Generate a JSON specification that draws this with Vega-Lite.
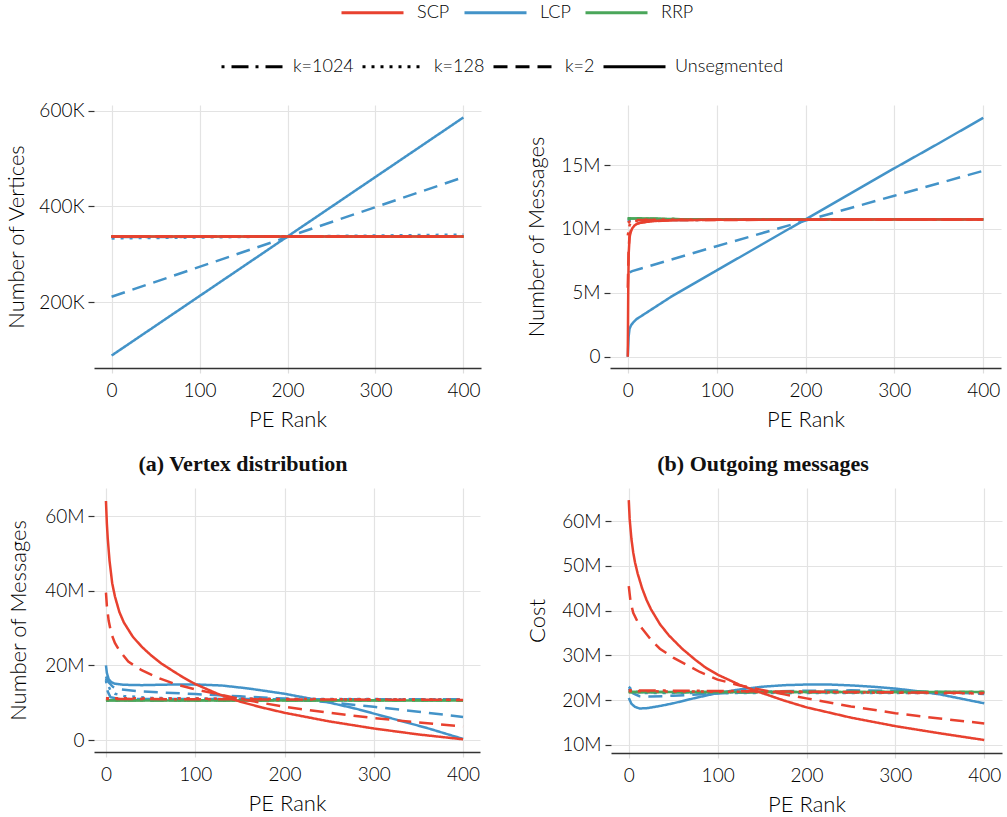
{
  "$schema": "https://vega.github.io/schema/vega-lite/v6.json",
  "padding": {"left": 5, "top": 3, "right": 7, "bottom": 2},
  "background": "white",
  "datasets": {
    "a": [
      {"x":0,"y":88000,"m":"LCP","k":"Unsegmented"},{"x":200,"y":337000,"m":"LCP","k":"Unsegmented"},{"x":400,"y":586000,"m":"LCP","k":"Unsegmented"},
      {"x":0,"y":211000,"m":"LCP","k":"k=2"},{"x":200,"y":336000,"m":"LCP","k":"k=2"},{"x":400,"y":461000,"m":"LCP","k":"k=2"},
      {"x":0,"y":333000,"m":"LCP","k":"k=128"},{"x":400,"y":341000,"m":"LCP","k":"k=128"},
      {"x":0,"y":336000,"m":"LCP","k":"k=1024"},{"x":400,"y":337000,"m":"LCP","k":"k=1024"},
      {"x":0,"y":337000,"m":"RRP","k":"Unsegmented"},{"x":400,"y":337000,"m":"RRP","k":"Unsegmented"},
      {"x":0,"y":337000,"m":"RRP","k":"k=2"},{"x":400,"y":337000,"m":"RRP","k":"k=2"},
      {"x":0,"y":337000,"m":"RRP","k":"k=128"},{"x":400,"y":337000,"m":"RRP","k":"k=128"},
      {"x":0,"y":337000,"m":"RRP","k":"k=1024"},{"x":400,"y":337000,"m":"RRP","k":"k=1024"},
      {"x":0,"y":337000,"m":"SCP","k":"k=1024"},{"x":400,"y":337000,"m":"SCP","k":"k=1024"},
      {"x":0,"y":337000,"m":"SCP","k":"k=128"},{"x":400,"y":337000,"m":"SCP","k":"k=128"},
      {"x":0,"y":337000,"m":"SCP","k":"k=2"},{"x":400,"y":337000,"m":"SCP","k":"k=2"},
      {"x":0,"y":337000,"m":"SCP","k":"Unsegmented"},{"x":400,"y":337000,"m":"SCP","k":"Unsegmented"}
    ],
    "b": [
      {"x":0,"y":0,"m":"LCP","k":"Unsegmented"},{"x":1,"y":1600000,"m":"LCP","k":"Unsegmented"},{"x":2,"y":2200000,"m":"LCP","k":"Unsegmented"},{"x":4,"y":2500000,"m":"LCP","k":"Unsegmented"},{"x":7,"y":2750000,"m":"LCP","k":"Unsegmented"},{"x":10,"y":2950000,"m":"LCP","k":"Unsegmented"},{"x":20,"y":3400000,"m":"LCP","k":"Unsegmented"},{"x":50,"y":4750000,"m":"LCP","k":"Unsegmented"},{"x":100,"y":6750000,"m":"LCP","k":"Unsegmented"},{"x":150,"y":8750000,"m":"LCP","k":"Unsegmented"},{"x":200,"y":10750000,"m":"LCP","k":"Unsegmented"},{"x":250,"y":12750000,"m":"LCP","k":"Unsegmented"},{"x":300,"y":14750000,"m":"LCP","k":"Unsegmented"},{"x":350,"y":16700000,"m":"LCP","k":"Unsegmented"},{"x":400,"y":18700000,"m":"LCP","k":"Unsegmented"},
      {"x":2,"y":6600000,"m":"LCP","k":"k=2"},{"x":5,"y":6700000,"m":"LCP","k":"k=2"},{"x":100,"y":8650000,"m":"LCP","k":"k=2"},{"x":200,"y":10650000,"m":"LCP","k":"k=2"},{"x":300,"y":12600000,"m":"LCP","k":"k=2"},{"x":400,"y":14550000,"m":"LCP","k":"k=2"},
      {"x":0,"y":10600000,"m":"LCP","k":"k=128"},{"x":10,"y":10720000,"m":"LCP","k":"k=128"},{"x":400,"y":10750000,"m":"LCP","k":"k=128"},
      {"x":0,"y":10700000,"m":"LCP","k":"k=1024"},{"x":400,"y":10750000,"m":"LCP","k":"k=1024"},
      {"x":0,"y":10820000,"m":"RRP","k":"Unsegmented"},{"x":30,"y":10800000,"m":"RRP","k":"Unsegmented"},{"x":60,"y":10760000,"m":"RRP","k":"Unsegmented"},{"x":400,"y":10760000,"m":"RRP","k":"Unsegmented"},
      {"x":0,"y":10820000,"m":"RRP","k":"k=2"},{"x":30,"y":10800000,"m":"RRP","k":"k=2"},{"x":60,"y":10760000,"m":"RRP","k":"k=2"},{"x":400,"y":10760000,"m":"RRP","k":"k=2"},
      {"x":0,"y":10820000,"m":"RRP","k":"k=128"},{"x":30,"y":10800000,"m":"RRP","k":"k=128"},{"x":60,"y":10760000,"m":"RRP","k":"k=128"},{"x":400,"y":10760000,"m":"RRP","k":"k=128"},
      {"x":0,"y":10820000,"m":"RRP","k":"k=1024"},{"x":30,"y":10800000,"m":"RRP","k":"k=1024"},{"x":60,"y":10760000,"m":"RRP","k":"k=1024"},{"x":400,"y":10760000,"m":"RRP","k":"k=1024"},
      {"x":0,"y":10500000,"m":"SCP","k":"k=1024"},{"x":5,"y":10700000,"m":"SCP","k":"k=1024"},{"x":400,"y":10750000,"m":"SCP","k":"k=1024"},
      {"x":0,"y":9500000,"m":"SCP","k":"k=128"},{"x":2,"y":10300000,"m":"SCP","k":"k=128"},{"x":5,"y":10600000,"m":"SCP","k":"k=128"},{"x":20,"y":10720000,"m":"SCP","k":"k=128"},{"x":400,"y":10750000,"m":"SCP","k":"k=128"},
      {"x":0,"y":5400000,"m":"SCP","k":"k=2"},{"x":1,"y":8500000,"m":"SCP","k":"k=2"},{"x":2,"y":9500000,"m":"SCP","k":"k=2"},{"x":4,"y":10000000,"m":"SCP","k":"k=2"},{"x":8,"y":10350000,"m":"SCP","k":"k=2"},{"x":15,"y":10500000,"m":"SCP","k":"k=2"},{"x":30,"y":10620000,"m":"SCP","k":"k=2"},{"x":60,"y":10700000,"m":"SCP","k":"k=2"},{"x":400,"y":10750000,"m":"SCP","k":"k=2"},
      {"x":0,"y":0,"m":"SCP","k":"Unsegmented"},{"x":0.5,"y":5000000,"m":"SCP","k":"Unsegmented"},{"x":1,"y":8000000,"m":"SCP","k":"Unsegmented"},{"x":2,"y":9300000,"m":"SCP","k":"Unsegmented"},{"x":3,"y":9700000,"m":"SCP","k":"Unsegmented"},{"x":5,"y":10050000,"m":"SCP","k":"Unsegmented"},{"x":8,"y":10300000,"m":"SCP","k":"Unsegmented"},{"x":12,"y":10450000,"m":"SCP","k":"Unsegmented"},{"x":20,"y":10550000,"m":"SCP","k":"Unsegmented"},{"x":35,"y":10650000,"m":"SCP","k":"Unsegmented"},{"x":60,"y":10700000,"m":"SCP","k":"Unsegmented"},{"x":100,"y":10720000,"m":"SCP","k":"Unsegmented"},{"x":400,"y":10750000,"m":"SCP","k":"Unsegmented"}
    ],
    "c": [
      {"x":0,"y":20000000,"m":"LCP","k":"Unsegmented"},{"x":1,"y":18000000,"m":"LCP","k":"Unsegmented"},{"x":3,"y":16300000,"m":"LCP","k":"Unsegmented"},{"x":6,"y":15500000,"m":"LCP","k":"Unsegmented"},{"x":10,"y":15100000,"m":"LCP","k":"Unsegmented"},{"x":20,"y":14800000,"m":"LCP","k":"Unsegmented"},{"x":40,"y":14700000,"m":"LCP","k":"Unsegmented"},{"x":70,"y":14850000,"m":"LCP","k":"Unsegmented"},{"x":100,"y":14900000,"m":"LCP","k":"Unsegmented"},{"x":130,"y":14600000,"m":"LCP","k":"Unsegmented"},{"x":160,"y":13800000,"m":"LCP","k":"Unsegmented"},{"x":200,"y":12400000,"m":"LCP","k":"Unsegmented"},{"x":240,"y":10600000,"m":"LCP","k":"Unsegmented"},{"x":280,"y":8400000,"m":"LCP","k":"Unsegmented"},{"x":320,"y":5800000,"m":"LCP","k":"Unsegmented"},{"x":360,"y":3200000,"m":"LCP","k":"Unsegmented"},{"x":400,"y":300000,"m":"LCP","k":"Unsegmented"},
      {"x":0,"y":17000000,"m":"LCP","k":"k=2"},{"x":3,"y":15500000,"m":"LCP","k":"k=2"},{"x":8,"y":14200000,"m":"LCP","k":"k=2"},{"x":15,"y":13600000,"m":"LCP","k":"k=2"},{"x":40,"y":13000000,"m":"LCP","k":"k=2"},{"x":100,"y":12300000,"m":"LCP","k":"k=2"},{"x":150,"y":11700000,"m":"LCP","k":"k=2"},{"x":200,"y":11100000,"m":"LCP","k":"k=2"},{"x":250,"y":10100000,"m":"LCP","k":"k=2"},{"x":300,"y":8900000,"m":"LCP","k":"k=2"},{"x":350,"y":7600000,"m":"LCP","k":"k=2"},{"x":400,"y":6200000,"m":"LCP","k":"k=2"},
      {"x":0,"y":16500000,"m":"LCP","k":"k=128"},{"x":2,"y":15000000,"m":"LCP","k":"k=128"},{"x":5,"y":13300000,"m":"LCP","k":"k=128"},{"x":10,"y":12400000,"m":"LCP","k":"k=128"},{"x":20,"y":11800000,"m":"LCP","k":"k=128"},{"x":50,"y":11300000,"m":"LCP","k":"k=128"},{"x":100,"y":11100000,"m":"LCP","k":"k=128"},{"x":400,"y":10900000,"m":"LCP","k":"k=128"},
      {"x":0,"y":16000000,"m":"LCP","k":"k=1024"},{"x":2,"y":13000000,"m":"LCP","k":"k=1024"},{"x":5,"y":11500000,"m":"LCP","k":"k=1024"},{"x":15,"y":11000000,"m":"LCP","k":"k=1024"},{"x":400,"y":10900000,"m":"LCP","k":"k=1024"},
      {"x":0,"y":10600000,"m":"RRP","k":"Unsegmented"},{"x":400,"y":10600000,"m":"RRP","k":"Unsegmented"},
      {"x":0,"y":10650000,"m":"RRP","k":"k=2"},{"x":400,"y":10650000,"m":"RRP","k":"k=2"},
      {"x":0,"y":10650000,"m":"RRP","k":"k=128"},{"x":400,"y":10650000,"m":"RRP","k":"k=128"},
      {"x":0,"y":10650000,"m":"RRP","k":"k=1024"},{"x":400,"y":10650000,"m":"RRP","k":"k=1024"},
      {"x":0,"y":11000000,"m":"SCP","k":"k=1024"},{"x":400,"y":10750000,"m":"SCP","k":"k=1024"},
      {"x":0,"y":11200000,"m":"SCP","k":"k=128"},{"x":400,"y":10800000,"m":"SCP","k":"k=128"},
      {"x":0,"y":39500000,"m":"SCP","k":"k=2"},{"x":1,"y":36000000,"m":"SCP","k":"k=2"},{"x":3,"y":32000000,"m":"SCP","k":"k=2"},{"x":6,"y":28500000,"m":"SCP","k":"k=2"},{"x":10,"y":26000000,"m":"SCP","k":"k=2"},{"x":15,"y":24000000,"m":"SCP","k":"k=2"},{"x":25,"y":21000000,"m":"SCP","k":"k=2"},{"x":40,"y":18700000,"m":"SCP","k":"k=2"},{"x":60,"y":16500000,"m":"SCP","k":"k=2"},{"x":80,"y":14800000,"m":"SCP","k":"k=2"},{"x":100,"y":13600000,"m":"SCP","k":"k=2"},{"x":150,"y":11000000,"m":"SCP","k":"k=2"},{"x":200,"y":8900000,"m":"SCP","k":"k=2"},{"x":250,"y":7300000,"m":"SCP","k":"k=2"},{"x":300,"y":5900000,"m":"SCP","k":"k=2"},{"x":350,"y":4700000,"m":"SCP","k":"k=2"},{"x":400,"y":3600000,"m":"SCP","k":"k=2"},
      {"x":0,"y":64000000,"m":"SCP","k":"Unsegmented"},{"x":1,"y":58000000,"m":"SCP","k":"Unsegmented"},{"x":2,"y":54000000,"m":"SCP","k":"Unsegmented"},{"x":4,"y":48000000,"m":"SCP","k":"Unsegmented"},{"x":7,"y":42000000,"m":"SCP","k":"Unsegmented"},{"x":10,"y":38500000,"m":"SCP","k":"Unsegmented"},{"x":15,"y":34300000,"m":"SCP","k":"Unsegmented"},{"x":20,"y":31500000,"m":"SCP","k":"Unsegmented"},{"x":30,"y":27700000,"m":"SCP","k":"Unsegmented"},{"x":40,"y":25000000,"m":"SCP","k":"Unsegmented"},{"x":50,"y":22800000,"m":"SCP","k":"Unsegmented"},{"x":62,"y":20500000,"m":"SCP","k":"Unsegmented"},{"x":75,"y":18500000,"m":"SCP","k":"Unsegmented"},{"x":87,"y":16700000,"m":"SCP","k":"Unsegmented"},{"x":100,"y":15000000,"m":"SCP","k":"Unsegmented"},{"x":125,"y":12400000,"m":"SCP","k":"Unsegmented"},{"x":150,"y":10300000,"m":"SCP","k":"Unsegmented"},{"x":175,"y":8700000,"m":"SCP","k":"Unsegmented"},{"x":200,"y":7300000,"m":"SCP","k":"Unsegmented"},{"x":250,"y":5000000,"m":"SCP","k":"Unsegmented"},{"x":300,"y":3100000,"m":"SCP","k":"Unsegmented"},{"x":350,"y":1500000,"m":"SCP","k":"Unsegmented"},{"x":400,"y":200000,"m":"SCP","k":"Unsegmented"}
    ],
    "d": [
      {"x":0,"y":20500000,"m":"LCP","k":"Unsegmented"},{"x":3,"y":19200000,"m":"LCP","k":"Unsegmented"},{"x":7,"y":18500000,"m":"LCP","k":"Unsegmented"},{"x":12,"y":18150000,"m":"LCP","k":"Unsegmented"},{"x":20,"y":18200000,"m":"LCP","k":"Unsegmented"},{"x":35,"y":18700000,"m":"LCP","k":"Unsegmented"},{"x":50,"y":19300000,"m":"LCP","k":"Unsegmented"},{"x":75,"y":20500000,"m":"LCP","k":"Unsegmented"},{"x":100,"y":21600000,"m":"LCP","k":"Unsegmented"},{"x":125,"y":22400000,"m":"LCP","k":"Unsegmented"},{"x":150,"y":23000000,"m":"LCP","k":"Unsegmented"},{"x":175,"y":23350000,"m":"LCP","k":"Unsegmented"},{"x":200,"y":23500000,"m":"LCP","k":"Unsegmented"},{"x":225,"y":23500000,"m":"LCP","k":"Unsegmented"},{"x":250,"y":23300000,"m":"LCP","k":"Unsegmented"},{"x":275,"y":23000000,"m":"LCP","k":"Unsegmented"},{"x":300,"y":22600000,"m":"LCP","k":"Unsegmented"},{"x":325,"y":22000000,"m":"LCP","k":"Unsegmented"},{"x":350,"y":21300000,"m":"LCP","k":"Unsegmented"},{"x":375,"y":20300000,"m":"LCP","k":"Unsegmented"},{"x":400,"y":19300000,"m":"LCP","k":"Unsegmented"},
      {"x":0,"y":22500000,"m":"LCP","k":"k=2"},{"x":5,"y":21500000,"m":"LCP","k":"k=2"},{"x":12,"y":20900000,"m":"LCP","k":"k=2"},{"x":25,"y":20800000,"m":"LCP","k":"k=2"},{"x":50,"y":21000000,"m":"LCP","k":"k=2"},{"x":100,"y":21500000,"m":"LCP","k":"k=2"},{"x":150,"y":21900000,"m":"LCP","k":"k=2"},{"x":200,"y":22100000,"m":"LCP","k":"k=2"},{"x":250,"y":22200000,"m":"LCP","k":"k=2"},{"x":300,"y":22100000,"m":"LCP","k":"k=2"},{"x":350,"y":21800000,"m":"LCP","k":"k=2"},{"x":400,"y":21400000,"m":"LCP","k":"k=2"},
      {"x":0,"y":23000000,"m":"LCP","k":"k=128"},{"x":5,"y":22000000,"m":"LCP","k":"k=128"},{"x":15,"y":21600000,"m":"LCP","k":"k=128"},{"x":400,"y":21600000,"m":"LCP","k":"k=128"},
      {"x":0,"y":22600000,"m":"LCP","k":"k=1024"},{"x":8,"y":21800000,"m":"LCP","k":"k=1024"},{"x":400,"y":21700000,"m":"LCP","k":"k=1024"},
      {"x":0,"y":21800000,"m":"RRP","k":"Unsegmented"},{"x":400,"y":21800000,"m":"RRP","k":"Unsegmented"},
      {"x":0,"y":21800000,"m":"RRP","k":"k=2"},{"x":400,"y":21800000,"m":"RRP","k":"k=2"},
      {"x":0,"y":21800000,"m":"RRP","k":"k=128"},{"x":400,"y":21800000,"m":"RRP","k":"k=128"},
      {"x":0,"y":21800000,"m":"RRP","k":"k=1024"},{"x":400,"y":21800000,"m":"RRP","k":"k=1024"},
      {"x":0,"y":22200000,"m":"SCP","k":"k=1024"},{"x":400,"y":21600000,"m":"SCP","k":"k=1024"},
      {"x":0,"y":22000000,"m":"SCP","k":"k=128"},{"x":200,"y":21800000,"m":"SCP","k":"k=128"},{"x":400,"y":21500000,"m":"SCP","k":"k=128"},
      {"x":0,"y":45500000,"m":"SCP","k":"k=2"},{"x":2,"y":42000000,"m":"SCP","k":"k=2"},{"x":5,"y":39500000,"m":"SCP","k":"k=2"},{"x":10,"y":37500000,"m":"SCP","k":"k=2"},{"x":15,"y":36000000,"m":"SCP","k":"k=2"},{"x":25,"y":33500000,"m":"SCP","k":"k=2"},{"x":35,"y":31500000,"m":"SCP","k":"k=2"},{"x":50,"y":29500000,"m":"SCP","k":"k=2"},{"x":65,"y":27900000,"m":"SCP","k":"k=2"},{"x":80,"y":26300000,"m":"SCP","k":"k=2"},{"x":100,"y":24600000,"m":"SCP","k":"k=2"},{"x":125,"y":23300000,"m":"SCP","k":"k=2"},{"x":150,"y":22300000,"m":"SCP","k":"k=2"},{"x":175,"y":21300000,"m":"SCP","k":"k=2"},{"x":200,"y":20400000,"m":"SCP","k":"k=2"},{"x":250,"y":18600000,"m":"SCP","k":"k=2"},{"x":300,"y":17100000,"m":"SCP","k":"k=2"},{"x":350,"y":15900000,"m":"SCP","k":"k=2"},{"x":400,"y":14800000,"m":"SCP","k":"k=2"},
      {"x":0,"y":64700000,"m":"SCP","k":"Unsegmented"},{"x":1,"y":60500000,"m":"SCP","k":"Unsegmented"},{"x":3,"y":56000000,"m":"SCP","k":"Unsegmented"},{"x":5,"y":53000000,"m":"SCP","k":"Unsegmented"},{"x":7,"y":50800000,"m":"SCP","k":"Unsegmented"},{"x":10,"y":48300000,"m":"SCP","k":"Unsegmented"},{"x":15,"y":45000000,"m":"SCP","k":"Unsegmented"},{"x":20,"y":42400000,"m":"SCP","k":"Unsegmented"},{"x":25,"y":40300000,"m":"SCP","k":"Unsegmented"},{"x":35,"y":37000000,"m":"SCP","k":"Unsegmented"},{"x":45,"y":34500000,"m":"SCP","k":"Unsegmented"},{"x":60,"y":31500000,"m":"SCP","k":"Unsegmented"},{"x":75,"y":29000000,"m":"SCP","k":"Unsegmented"},{"x":87,"y":27200000,"m":"SCP","k":"Unsegmented"},{"x":100,"y":25700000,"m":"SCP","k":"Unsegmented"},{"x":125,"y":23400000,"m":"SCP","k":"Unsegmented"},{"x":150,"y":21600000,"m":"SCP","k":"Unsegmented"},{"x":175,"y":19900000,"m":"SCP","k":"Unsegmented"},{"x":200,"y":18400000,"m":"SCP","k":"Unsegmented"},{"x":250,"y":16100000,"m":"SCP","k":"Unsegmented"},{"x":300,"y":14200000,"m":"SCP","k":"Unsegmented"},{"x":350,"y":12600000,"m":"SCP","k":"Unsegmented"},{"x":400,"y":11100000,"m":"SCP","k":"Unsegmented"}
    ]
  },
  "vconcat": [
    {
      "hconcat": [
        {
          "data": {"name": "a"},
          "width": 387, "height": 263,
          "title": {"text": "(a) Vertex distribution", "orient": "bottom", "anchor": "middle", "frame": "bounds", "font": "Liberation Serif", "fontSize": 22, "fontWeight": "bold", "color": "#111", "offset": 24},
          "mark": {"type": "line", "strokeWidth": 2.5, "clip": true},
          "encoding": {
            "x": {"field": "x", "type": "quantitative", "scale": {"domain": [-20, 420], "nice": false, "zero": false}, "axis": {"values": [0, 100, 200, 300, 400], "title": "PE Rank", "labelFlush": false}},
            "y": {"field": "y", "type": "quantitative", "scale": {"domain": [62000, 612000], "nice": false, "zero": false}, "axis": {"values": [200000, 400000, 600000], "labelExpr": "datum.value/1000 + 'K'", "title": "Number of Vertices", "minExtent": 58, "maxExtent": 58}},
            "color": {"field": "m", "type": "nominal", "scale": {"domain": ["SCP", "LCP", "RRP"], "range": ["#e8412f", "#4393c8", "#4aa65a"]}, "legend": {"orient": "none", "legendX": 246, "legendY": -102, "direction": "horizontal", "title": null, "symbolType": "M-1,0H6.75", "symbolSize": 256, "symbolStrokeWidth": 3, "labelFontSize": 18, "labelFont": "Lato", "labelOffset": 58, "columnPadding": 8, "padding": 0}},
            "strokeDash": {"field": "k", "type": "nominal", "scale": {"domain": ["k=1024", "k=128", "k=2", "Unsegmented"], "range": [[3, 7, 17, 7], [3, 6], [14, 8], [1, 0]]}, "legend": {"orient": "none", "legendX": 126, "legendY": -48, "direction": "horizontal", "title": null, "symbolType": "M-1,0H6.75", "symbolSize": 256, "symbolStrokeWidth": 3, "symbolStrokeColor": "black", "labelFontSize": 18, "labelFont": "Lato", "labelOffset": 54, "columnPadding": 2, "padding": 0}}
          }
        },
        {
          "data": {"name": "b"},
          "width": 391, "height": 263,
          "title": {"text": "(b) Outgoing messages", "orient": "bottom", "anchor": "middle", "frame": "bounds", "font": "Liberation Serif", "fontSize": 22, "fontWeight": "bold", "color": "#111", "offset": 24},
          "mark": {"type": "line", "strokeWidth": 2.5, "clip": true},
          "encoding": {
            "x": {"field": "x", "type": "quantitative", "scale": {"domain": [-20, 420], "nice": false, "zero": false}, "axis": {"values": [0, 100, 200, 300, 400], "title": "PE Rank", "labelFlush": false}},
            "y": {"field": "y", "type": "quantitative", "scale": {"domain": [-880000, 19700000], "nice": false, "zero": false}, "axis": {"values": [0, 5000000, 10000000, 15000000], "labelExpr": "datum.value == 0 ? '0' : datum.value/1000000 + 'M'", "title": "Number of Messages", "minExtent": 54, "maxExtent": 54}},
            "color": {"field": "m", "type": "nominal", "scale": {"domain": ["SCP", "LCP", "RRP"], "range": ["#e8412f", "#4393c8", "#4aa65a"]}, "legend": {"orient": "none", "legendX": 246, "legendY": -102, "direction": "horizontal", "title": null, "symbolType": "M-1,0H6.75", "symbolSize": 256, "symbolStrokeWidth": 3, "labelFontSize": 18, "labelFont": "Lato", "labelOffset": 58, "columnPadding": 8, "padding": 0}},
            "strokeDash": {"field": "k", "type": "nominal", "scale": {"domain": ["k=1024", "k=128", "k=2", "Unsegmented"], "range": [[3, 7, 17, 7], [3, 6], [14, 8], [1, 0]]}, "legend": {"orient": "none", "legendX": 126, "legendY": -48, "direction": "horizontal", "title": null, "symbolType": "M-1,0H6.75", "symbolSize": 256, "symbolStrokeWidth": 3, "symbolStrokeColor": "black", "labelFontSize": 18, "labelFont": "Lato", "labelOffset": 54, "columnPadding": 2, "padding": 0}}
          }
        }
      ],
      "spacing": 44
    },
    {
      "hconcat": [
        {
          "data": {"name": "c"},
          "width": 386, "height": 264,
          "mark": {"type": "line", "strokeWidth": 2.5, "clip": true},
          "encoding": {
            "x": {"field": "x", "type": "quantitative", "scale": {"domain": [-13.4, 419], "nice": false, "zero": false}, "axis": {"values": [0, 100, 200, 300, 400], "title": "PE Rank", "labelFlush": false}},
            "y": {"field": "y", "type": "quantitative", "scale": {"domain": [-3200000, 67500000], "nice": false, "zero": false}, "axis": {"values": [0, 20000000, 40000000, 60000000], "labelExpr": "datum.value == 0 ? '0' : datum.value/1000000 + 'M'", "title": "Number of Messages", "minExtent": 56, "maxExtent": 56}},
            "color": {"field": "m", "type": "nominal", "scale": {"domain": ["SCP", "LCP", "RRP"], "range": ["#e8412f", "#4393c8", "#4aa65a"]}, "legend": {"orient": "none", "legendX": 246, "legendY": -102, "direction": "horizontal", "title": null, "symbolType": "M-1,0H6.75", "symbolSize": 256, "symbolStrokeWidth": 3, "labelFontSize": 18, "labelFont": "Lato", "labelOffset": 58, "columnPadding": 8, "padding": 0}},
            "strokeDash": {"field": "k", "type": "nominal", "scale": {"domain": ["k=1024", "k=128", "k=2", "Unsegmented"], "range": [[3, 7, 17, 7], [3, 6], [14, 8], [1, 0]]}, "legend": {"orient": "none", "legendX": 126, "legendY": -48, "direction": "horizontal", "title": null, "symbolType": "M-1,0H6.75", "symbolSize": 256, "symbolStrokeWidth": 3, "symbolStrokeColor": "black", "labelFontSize": 18, "labelFont": "Lato", "labelOffset": 54, "columnPadding": 2, "padding": 0}}
          }
        },
        {
          "data": {"name": "d"},
          "width": 391, "height": 265,
          "mark": {"type": "line", "strokeWidth": 2.5, "clip": true},
          "encoding": {
            "x": {"field": "x", "type": "quantitative", "scale": {"domain": [-20, 420], "nice": false, "zero": false}, "axis": {"values": [0, 100, 200, 300, 400], "title": "PE Rank", "labelFlush": false}},
            "y": {"field": "y", "type": "quantitative", "scale": {"domain": [8200000, 67400000], "nice": false, "zero": false}, "axis": {"values": [10000000, 20000000, 30000000, 40000000, 50000000, 60000000], "labelExpr": "datum.value/1000000 + 'M'", "title": "Cost", "minExtent": 54, "maxExtent": 54}},
            "color": {"field": "m", "type": "nominal", "scale": {"domain": ["SCP", "LCP", "RRP"], "range": ["#e8412f", "#4393c8", "#4aa65a"]}, "legend": {"orient": "none", "legendX": 246, "legendY": -102, "direction": "horizontal", "title": null, "symbolType": "M-1,0H6.75", "symbolSize": 256, "symbolStrokeWidth": 3, "labelFontSize": 18, "labelFont": "Lato", "labelOffset": 58, "columnPadding": 8, "padding": 0}},
            "strokeDash": {"field": "k", "type": "nominal", "scale": {"domain": ["k=1024", "k=128", "k=2", "Unsegmented"], "range": [[3, 7, 17, 7], [3, 6], [14, 8], [1, 0]]}, "legend": {"orient": "none", "legendX": 126, "legendY": -48, "direction": "horizontal", "title": null, "symbolType": "M-1,0H6.75", "symbolSize": 256, "symbolStrokeWidth": 3, "symbolStrokeColor": "black", "labelFontSize": 18, "labelFont": "Lato", "labelOffset": 54, "columnPadding": 2, "padding": 0}}
          }
        }
      ],
      "spacing": 46
    }
  ],
  "spacing": 13,
  "config": {
    "font": "Lato",
    "view": {"stroke": null},
    "line": {"color": "black"},
    "axis": {"labelFont": "Lato", "titleFont": "Lato", "labelFontSize": 19, "titleFontSize": 22, "labelFontWeight": 300, "titleFontWeight": 300, "labelColor": "#000", "titleColor": "#000", "gridColor": "#e3e3e3", "gridWidth": 1.2},
    "axisX": {"domainColor": "#333", "domainWidth": 1.5, "tickColor": "#dddddd", "tickSize": 5, "tickWidth": 1.2, "labelPadding": 8, "titlePadding": 9},
    "axisY": {"domain": false, "tickColor": "#333", "tickSize": 6, "tickWidth": 1.2, "labelPadding": 4, "titlePadding": 8},
    "legend": {"labelColor": "#000", "labelFontWeight": 300}
  }
}
